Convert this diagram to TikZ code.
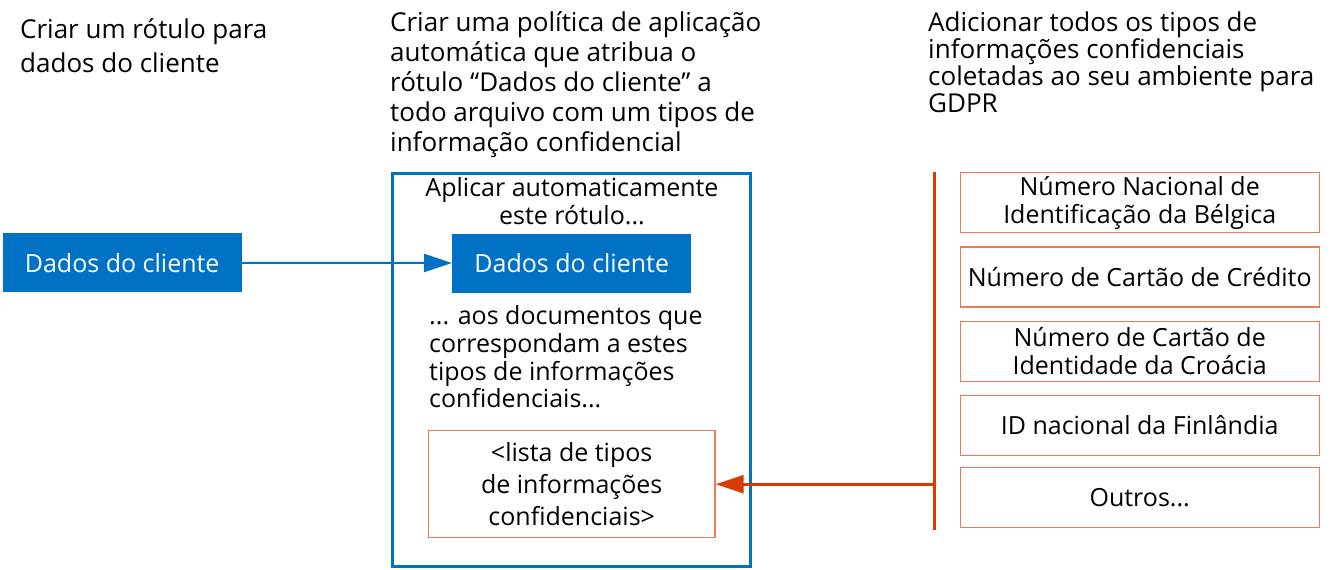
\documentclass[tikz,border=0pt]{standalone}
\usepackage{fontspec}
\setmainfont{Open Sans}
\usetikzlibrary{arrows.meta}
\definecolor{msblue}{HTML}{0072C6}
\definecolor{msorange}{HTML}{D83B01}
\definecolor{lightorange}{HTML}{EC7B59}
\tikzset{
  txt/.style={inner sep=0pt, font=\fontsize{25}{#1}\selectfont},
  ttl/.style={inner sep=0pt, anchor=north west, align=left, font=\fontsize{26}{#1}\selectfont},
  bluebox/.style={fill=msblue, text=white, minimum width=239pt, minimum height=59pt, inner sep=0pt, font=\fontsize{25}{30}\selectfont},
  typebox/.style={draw=lightorange, line width=1.3pt, minimum width=359pt, minimum height=60pt, inner sep=0pt, align=center, font=\fontsize{25}{28}\selectfont},
  frame/.style={draw=msblue, line width=3pt, minimum width=358pt, minimum height=393pt, inner sep=0pt},
}
\begin{document}
\begin{tikzpicture}[x=1pt, y=-1pt]
\useasboundingbox (0,0) rectangle (1330,570);
% titles
\node[ttl=34] (t1) at (20,18.0) {Criar um rótulo para\\dados do cliente};
\node[ttl=30] (t2) at (390,11.4) {Criar uma política de aplicação\\automática que atribua o\\rótulo “Dados do cliente” a\\todo arquivo com um tipos de\\informação confidencial};
\node[ttl=27] (t3) at (928,11.4) {Adicionar todos os tipos de\\informações confidenciais\\coletadas ao seu ambiente para\\GDPR};
% left label
\node[bluebox] (dc1) at (122.2,262.8) {Dados do cliente};
% policy frame
\node[frame] (pol) at (571.5,370) {};
\node[txt=28, anchor=north, align=center] (apl) at (572,177.8) {Aplicar automaticamente\\este rótulo...};
\node[bluebox] (dc2) at (571.7,263) {Dados do cliente};
\node[txt=27.7, anchor=north west, align=left] (docs) at (429,305.5) {... aos documentos que\\correspondam a estes\\tipos de informações\\confidenciais...};
\node[draw=lightorange, line width=1.3pt, minimum width=286.7pt, minimum height=107pt, inner sep=0pt, align=center, font=\fontsize{25}{31.7}\selectfont] (lista) at (571.7,484.2) {<lista de tipos\\de informações\\confidenciais>};
% types
\node[typebox] (b1) at (1139.7,202.7) {Número Nacional de\\Identificação da Bélgica};
\node[typebox] (b2) at (1139.7,277) {Número de Cartão de Crédito};
\node[typebox] (b3) at (1139.7,351.2) {Número de Cartão de\\Identidade da Croácia};
\node[typebox] (b4) at (1139.7,425.2) {ID nacional da Finlândia};
\node[typebox] (b5) at (1139.7,497.3) {Outros...};
% connectors
\coordinate (vt) at (934.7,172);
\coordinate (vb) at (934.7,530);
\coordinate (vj) at (934.7,484.2);
\draw[msorange, line width=3pt] (vt) -- (vb);
\draw[msorange, line width=2.6pt, -{Triangle[length=28pt, width=18pt]}] (vj) -- (lista.east);
\draw[msblue, line width=2pt, -{Triangle[length=28pt, width=18pt]}] (dc1.east) -- (dc2.west);
\end{tikzpicture}
\end{document}
